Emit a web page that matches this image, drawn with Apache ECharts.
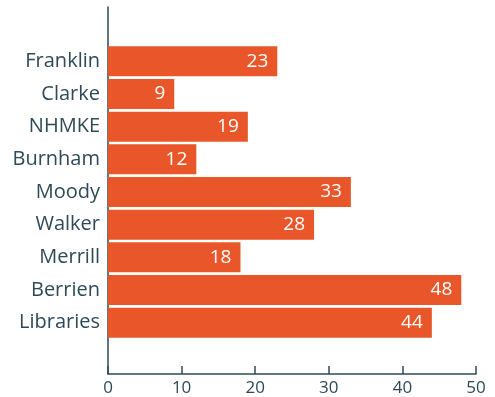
<!DOCTYPE html>
<html><head><meta charset="utf-8">
<script src="https://cdn.jsdelivr.net/npm/echarts@6/dist/echarts.min.js"></script>
<style>html,body{margin:0;padding:0;background:#fff}#c{width:495px;height:397px}</style>
</head><body><div id="c"></div>
<script>
const categories = ["Franklin","Clarke","NHMKE","Burnham","Moody","Walker","Merrill","Berrien","Libraries"];
const values = [23, 9, 19, 12, 33, 28, 18, 48, 44];
const xTicks = [0, 10, 20, 30, 40, 50];

const axisColor = '#2f4a56';
const font = '"Open Sans", Lato, sans-serif';
const chart = echarts.init(document.getElementById('c'));
chart.setOption({
  animation: false,
  grid: [
    {left: 108, right: 19, top: 45, bottom: 58},
    {left: 108, right: 19, top: 7, bottom: 23}
  ],
  xAxis: [{
    gridIndex: 0, type: 'value', min: xTicks[0], max: xTicks[xTicks.length-1], interval: 10,
    offset: 35,
    axisLine: {show: true, lineStyle: {color: axisColor, width: 1.5}},
    axisTick: {show: true, inside: true, length: 8, lineStyle: {color: axisColor, width: 1.5}},
    axisLabel: {color: axisColor, fontSize: 17, fontFamily: font, margin: 6},
    splitLine: {show: false}
  }, {
    gridIndex: 1, type: 'value', show: false
  }],
  yAxis: [{
    gridIndex: 0, type: 'category', data: categories, inverse: true,
    axisLine: {show: false},
    axisTick: {show: false},
    axisLabel: {color: axisColor, fontSize: 20, fontFamily: font, margin: 8}
  }, {
    gridIndex: 1, type: 'value',
    axisLine: {show: true, lineStyle: {color: axisColor, width: 1.5}},
    axisTick: {show: false}, axisLabel: {show: false}, splitLine: {show: false}
  }],
  series: [{
    type: 'bar', xAxisIndex: 0, yAxisIndex: 0,
    data: values, barWidth: 30,
    itemStyle: {color: '#e85629'},
    label: {show: true, position: 'insideRight', distance: 9, color: '#fff', fontSize: 19, fontFamily: font}
  }]
});
</script></body></html>
